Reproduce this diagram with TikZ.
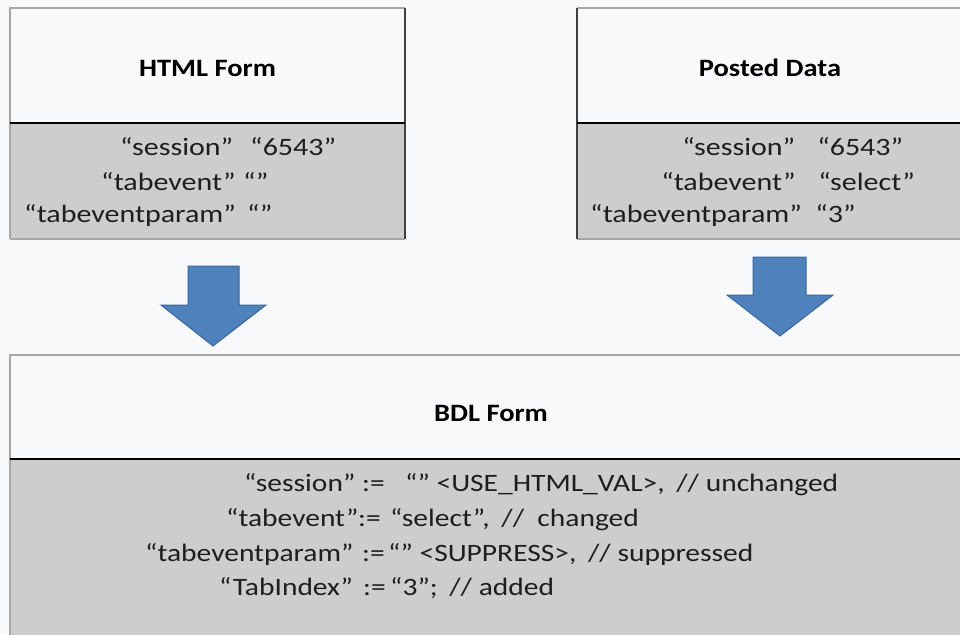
\documentclass[tikz,border=0pt]{standalone}
\usepackage{fontspec}
\setmainfont{Carlito}
\definecolor{bgc}{HTML}{F8F9FA}
\definecolor{bodygray}{HTML}{CDCDCD}
\definecolor{arrowblue}{HTML}{4F81BD}
\definecolor{arrowedge}{HTML}{3B6799}
\definecolor{lightedge}{HTML}{A6A6A6}
\definecolor{darkedge}{HTML}{404040}
\definecolor{txt}{HTML}{1E1E1E}
\tikzset{
  titletext/.style={font=\bfseries\fontsize{25}{30}\selectfont, text=black, inner sep=0pt, xscale=1.14},
  bodytext/.style={font=\fontsize{25}{30}\selectfont, text=txt, inner sep=0pt, xscale=1.2, anchor=base west},
  bdltext/.style={font=\fontsize{25}{30}\selectfont, text=txt, inner sep=0pt, xscale=1.18, anchor=base west},
  lightline/.style={draw=lightedge, line width=1.2pt},
  darkline/.style={draw=darkedge, line width=2.2pt},
  divline/.style={draw=black, line width=2.4pt},
  blockarrow/.style={fill=arrowblue, draw=arrowedge, line width=1pt, line join=miter}
}
\begin{document}
\begin{tikzpicture}[x=1pt,y=-1pt]
\useasboundingbox (0,0) rectangle (960,634);
\clip (0,0) rectangle (960,634);
\fill[bgc] (0,0) rectangle (960,634);

% ---- HTML Form box
\coordinate (h-nw) at (10,8);
\coordinate (h-ne) at (405,8);
\coordinate (h-dw) at (10,123);
\coordinate (h-de) at (405,123);
\coordinate (h-sw) at (10,239);
\coordinate (h-se) at (405,239);
\fill[bodygray] (h-dw) rectangle (h-se);
\draw[lightline] (h-sw) -- (h-nw) -- (h-ne);
\draw[lightline] (h-sw) -- (h-se);
\draw[darkline] (h-ne) -- (h-se);
\draw[divline] (h-dw) -- (h-de);

% ---- Posted Data box
\coordinate (p-nw) at (577,8);
\coordinate (p-ne) at (970,8);
\coordinate (p-dw) at (577,123);
\coordinate (p-de) at (970,123);
\coordinate (p-sw) at (577,239);
\coordinate (p-se) at (970,239);
\fill[bodygray] (p-dw) rectangle (p-se);
\draw[lightline] (p-nw) -- (p-ne);
\draw[lightline] (p-sw) -- (p-se);
\draw[darkline] (p-nw) -- (p-sw);
\draw[divline] (p-dw) -- (p-de);

% ---- BDL Form box
\coordinate (b-nw) at (10,355);
\coordinate (b-ne) at (975,355);
\coordinate (b-dw) at (10,459);
\coordinate (b-de) at (975,459);
\coordinate (b-sw) at (10,640);
\coordinate (b-se) at (975,640);
\fill[bodygray] (b-dw) rectangle (b-se);
\draw[lightline] (b-sw) -- (b-nw) -- (b-ne);
\draw[divline] (b-dw) -- (b-de);

% ---- block arrows
\draw[blockarrow] (188,266) -- (239,266) -- (239,305) -- (266,305) -- (213,346) -- (161,305) -- (188,305) -- cycle;
\draw[blockarrow] (753,257) -- (806,257) -- (806,295) -- (833,295) -- (780,336) -- (727,295) -- (753,295) -- cycle;

% ---- titles
\node[titletext, anchor=base] (htitle) at (207.5,76) {HTML Form};
\node[titletext, anchor=base] (ptitle) at (770,76) {Posted Data};
\node[titletext, anchor=base] (btitle) at (491,421) {BDL Form};

% ---- HTML Form body
\node[bodytext] (h1n) at (120,155) {“session”};
\node[bodytext] (h1v) at (250,155) {“6543”};
\node[bodytext] (h2n) at (101,190) {“tabevent”};
\node[bodytext] (h2v) at (243,190) {“”};
\node[bodytext] (h3n) at (24,222) {“tabeventparam”};
\node[bodytext] (h3v) at (247,222) {“”};

% ---- Posted Data body
\node[bodytext] (p1n) at (682,155) {“session”};
\node[bodytext] (p1v) at (817,155) {“6543”};
\node[bodytext] (p2n) at (661,190) {“tabevent”};
\node[bodytext] (p2v) at (818,190) {“select”};
\node[bodytext] (p3n) at (590,222) {“tabeventparam”};
\node[bodytext] (p3v) at (815,222) {“3”};

% ---- BDL Form body
\node[bdltext] (b1n) at (244,491) {“session”};
\node[bdltext] (b1a) at (362,491) {:=};
\node[bdltext] (b1v) at (405,491) {“” <USE\_HTML\_VAL>, \,// unchanged};
\node[bdltext] (b2n) at (226,526) {“tabevent”};
\node[bdltext] (b2a) at (358,526) {:=};
\node[bdltext] (b2v) at (390,526) {“select”, \,//\ \ changed};
\node[bdltext] (b3n) at (145,561) {“tabeventparam”};
\node[bdltext] (b3a) at (362,561) {:=};
\node[bdltext] (b3v) at (388,561) {“” <SUPPRESS>, \,// suppressed};
\node[bdltext] (b4n) at (219,595) {“TabIndex”};
\node[bdltext] (b4a) at (363,595) {:=};
\node[bdltext] (b4v) at (390,595) {“3”; \,// added};
\end{tikzpicture}
\end{document}
